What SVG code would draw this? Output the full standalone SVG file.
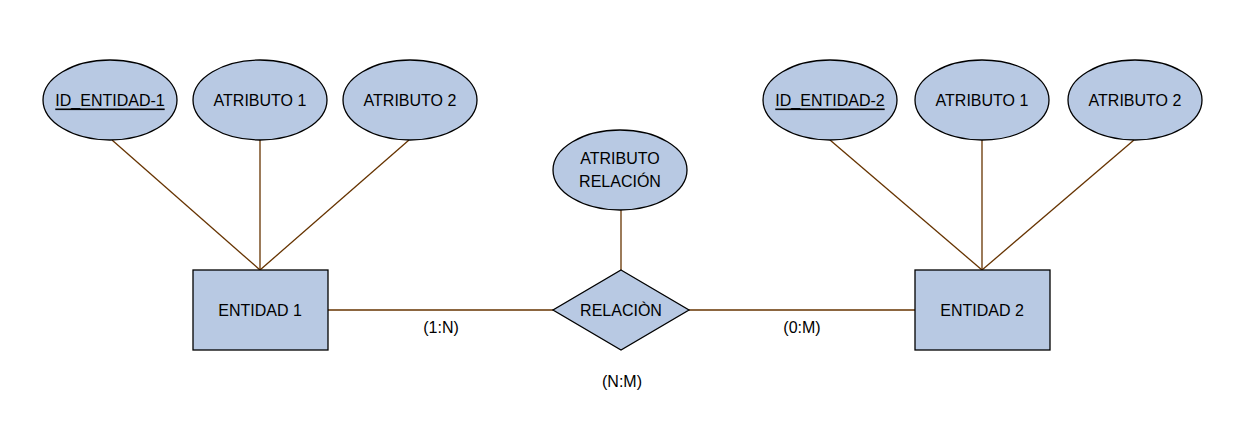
<svg xmlns="http://www.w3.org/2000/svg" width="1255" height="440" viewBox="0 0 1255 440">
<style>
.shape{fill:#b8c9e3;stroke:#000;stroke-width:1.3}
.t{font-family:"Liberation Sans",Arial,sans-serif;font-size:16px;fill:#000;text-anchor:middle;dominant-baseline:central}
.u{text-decoration:underline}
.c line{stroke:#663300;stroke-width:1.3}
</style>
<rect width="1255" height="440" fill="#fff"/>
<g class="c" id="connectors">
<line x1="112" y1="140" x2="260" y2="270"/>
<line x1="260" y1="140" x2="260" y2="270"/>
<line x1="409" y1="140" x2="260" y2="270"/>
<line x1="830" y1="140" x2="982" y2="270"/>
<line x1="982" y1="140" x2="982" y2="270"/>
<line x1="1134" y1="140" x2="982" y2="270"/>
<line x1="621" y1="210" x2="621" y2="270"/>
<line x1="328" y1="310" x2="553" y2="310"/>
<line x1="689" y1="310" x2="915" y2="310"/>
</g>
<g id="id1"><ellipse class="shape" cx="110" cy="100" rx="67" ry="40"/><text class="t u" x="110" y="100">ID_ENTIDAD-1</text></g>
<g id="a11"><ellipse class="shape" cx="260" cy="100" rx="67" ry="40"/><text class="t" x="260" y="100">ATRIBUTO 1</text></g>
<g id="a12"><ellipse class="shape" cx="410" cy="100" rx="67" ry="40"/><text class="t" x="410" y="100">ATRIBUTO 2</text></g>
<g id="id2"><ellipse class="shape" cx="830" cy="100" rx="67" ry="40"/><text class="t u" x="830" y="100">ID_ENTIDAD-2</text></g>
<g id="a21"><ellipse class="shape" cx="982" cy="100" rx="67" ry="40"/><text class="t" x="982" y="100">ATRIBUTO 1</text></g>
<g id="a22"><ellipse class="shape" cx="1135" cy="100" rx="67" ry="40"/><text class="t" x="1135" y="100">ATRIBUTO 2</text></g>
<g id="ar"><ellipse class="shape" cx="620" cy="170" rx="67" ry="40"/><text class="t" x="620" y="158">ATRIBUTO</text><text class="t" x="620" y="181">RELACIÓN</text></g>
<g id="rel"><polygon class="shape" points="621,270 689,310 621,350 553,310"/><text class="t" x="621" y="310">RELACIÒN</text></g>
<g id="e1"><rect class="shape" x="193" y="270" width="135" height="80"/><text class="t" x="260" y="310">ENTIDAD 1</text></g>
<g id="e2"><rect class="shape" x="915" y="270" width="135" height="80"/><text class="t" x="982" y="310">ENTIDAD 2</text></g>
<g id="labels">
<text class="t" x="441" y="327">(1:N)</text>
<text class="t" x="802" y="327">(0:M)</text>
<text class="t" x="622" y="381">(N:M)</text>
</g>
</svg>
